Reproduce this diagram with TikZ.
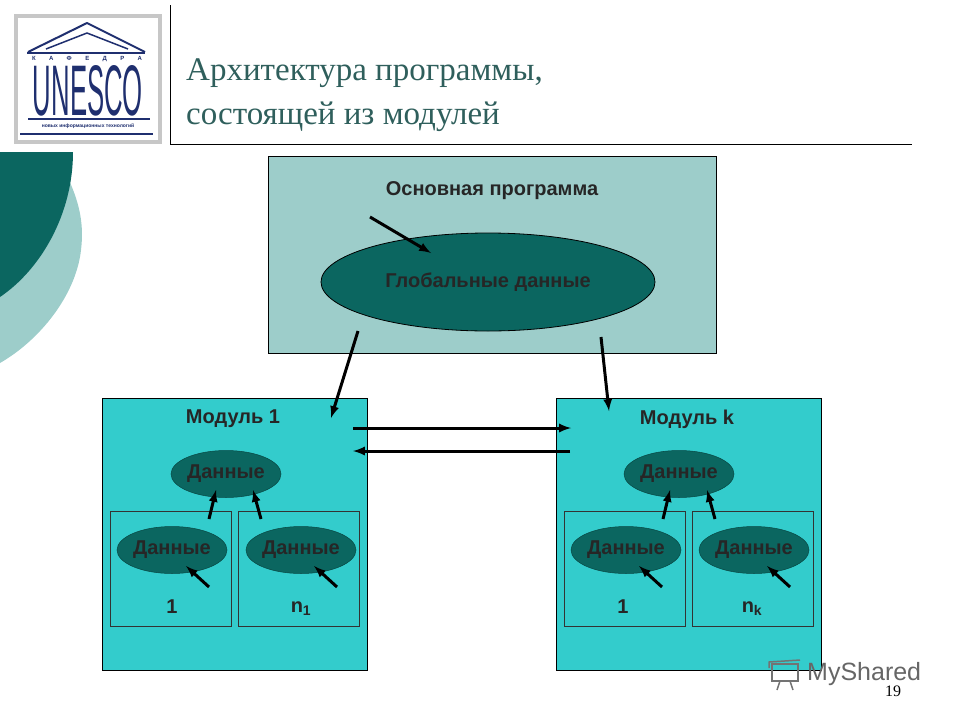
\documentclass[tikz,border=0pt]{standalone}
\usepackage{graphicx}
\usepackage{fontspec}
\setmainfont{Liberation Sans}
\newfontfamily\titlefont{Liberation Serif}
\usetikzlibrary{shapes.geometric}
\definecolor{darkteal}{HTML}{0B6660}
\definecolor{paleteal}{HTML}{9DCDCA}
\definecolor{modcyan}{HTML}{33CCCC}
\definecolor{logoblue}{HTML}{1F2F6F}
\definecolor{titleteal}{HTML}{2F5F5C}
\tikzset{
  mainbox/.style={draw=black, fill=paleteal, line width=0.8pt},
  modbox/.style={draw=black, fill=modcyan, line width=0.8pt},
  subbox/.style={draw=black!80, line width=0.6pt},
  bigdata/.style={ellipse, draw=black, fill=darkteal, line width=0.8pt, minimum width=334pt, minimum height=98pt, inner sep=0pt},
  data/.style={ellipse, draw=darkteal!70!black, fill=darkteal, line width=0.5pt, minimum width=110pt, minimum height=47pt, inner sep=0pt},
  lab/.style={font=\fontsize{20}{24}\selectfont\bfseries, text=black!85, inner sep=0pt},
  flow/.style={->, >=latex, line width=3pt, black},
  thinflow/.style={->, >=latex, line width=3pt, black}
}
\begin{document}
\begin{tikzpicture}[x=1pt, y=-1pt]
  \useasboundingbox (0,0) rectangle (960,720);
  % corner shapes
  \fill [paleteal] (69,180) .. controls (80,205) and (84,225) .. (81,250) .. controls (76,295) and (40,340) .. (0,363) -- (0,290) -- cycle;
  \fill [darkteal] (0,152) -- (73,152) .. controls (73,215) and (40,270) .. (0,297) -- cycle;
  % logo
  \filldraw [draw=black!22, fill=white, line width=4pt] (16,16) rectangle (160,142);
  \draw [logoblue, line width=2pt, line join=round] (28,52) -- (87,23) -- (145,52);
  \draw [logoblue, line width=1.5pt, line join=round] (46,49) -- (87,33) -- (128,49);
  \draw [logoblue, line width=2.5pt] (27,53) -- (145,53);
  \draw [logoblue, line width=2.5pt] (28,119) -- (150,119);
  \draw [logoblue, line width=2.5pt] (20,134) -- (153,134);
  \node (kafedra) at (87,59.5) [inner sep=0pt, text=logoblue, font=\fontsize{6}{7}\selectfont\bfseries] {\makebox[110pt][s]{К\hfil А\hfil Ф\hfil Е\hfil Д\hfil Р\hfil А}};
  \node (unesco) at (88,91) [inner sep=0pt, text=logoblue] {\resizebox{110pt}{50pt}{UNESCO}};
  \node (logotext) at (88,126) [inner sep=0pt, text=logoblue, font=\fontsize{5}{6}\selectfont\bfseries] {новых информационных технологий};
  % title
  \draw [black, line width=0.8pt] (170,5) -- (170,144) -- (912,144);
  \node (title1) at (186,80) [anchor=base west, inner sep=0pt, text=titleteal, font=\fontsize{33}{36}\selectfont\titlefont] {Архитектура программы,};
  \node (title2) at (186,124) [anchor=base west, inner sep=0pt, text=titleteal, font=\fontsize{33}{36}\selectfont\titlefont] {состоящей из модулей};
  % main program
  \filldraw [mainbox] (268,156) rectangle (716,353);
  \node [lab] (mainlab) at (492,191) {Основная программа};
  \node [bigdata, lab] (glob) at (488,282) {\makebox[0pt]{Глобальные данные}};
  % modules
  \filldraw [modbox] (102,398) rectangle (367,670);
  \filldraw [modbox] (556,398) rectangle (821,670);
  \node [lab] (mod1lab) at (233,419) {Модуль 1};
  \node [lab] (modklab) at (687,419) {Модуль k};
  \draw [subbox] (110,511) rectangle (231,626);
  \draw [subbox] (238,511) rectangle (359,626);
  \draw [subbox] (564,511) rectangle (685,626);
  \draw [subbox] (692,511) rectangle (813,626);
  \node [data, lab] (d1) at (226,474) {\makebox[0pt]{Данные}};
  \node [data, lab] (d11) at (172,550) {\makebox[0pt]{Данные}};
  \node [data, lab] (d1n) at (301,550) {\makebox[0pt]{Данные}};
  \node [data, lab] (dk) at (679,474) {\makebox[0pt]{Данные}};
  \node [data, lab] (dk1) at (626,550) {\makebox[0pt]{Данные}};
  \node [data, lab] (dkn) at (754,550) {\makebox[0pt]{Данные}};
  \node [lab] (s11) at (172,607) {1};
  \node [lab] (s1n) at (301,609) {n\textsubscript{1}};
  \node [lab] (sk1) at (623,607) {1};
  \node [lab] (skn) at (752,609) {n\textsubscript{k}};
  % arrow ends
  \coordinate (a1) at (370,217);  \coordinate (a2) at (431,253);
  \coordinate (b1) at (358,331);  \coordinate (b2) at (331,418);
  \coordinate (c1) at (601,337);  \coordinate (c2) at (609,411);
  \coordinate (e1) at (353,428);  \coordinate (e2) at (571,428);
  \coordinate (f1) at (570,451);  \coordinate (f2) at (353,451);
  \coordinate (g1) at (209,519);  \coordinate (g2) at (216,490);
  \coordinate (h1) at (261,519);  \coordinate (h2) at (253,490);
  \coordinate (i1) at (209,587);  \coordinate (i2) at (186,566);
  \coordinate (j1) at (337,587);  \coordinate (j2) at (314,566);
  \coordinate (k1) at (663,519);  \coordinate (k2) at (670,490);
  \coordinate (l1) at (715,519);  \coordinate (l2) at (707,490);
  \coordinate (m1) at (662,587);  \coordinate (m2) at (639,566);
  \coordinate (n1) at (790,587);  \coordinate (n2) at (767,566);
  \draw [flow] (a1) -- (a2);
  \draw [flow] (b1) -- (b2);
  \draw [flow] (c1) -- (c2);
  \draw [flow] (e1) -- (e2);
  \draw [flow] (f1) -- (f2);
  \draw [thinflow] (g1) -- (g2);
  \draw [thinflow] (h1) -- (h2);
  \draw [thinflow] (i1) -- (i2);
  \draw [thinflow] (j1) -- (j2);
  \draw [thinflow] (k1) -- (k2);
  \draw [thinflow] (l1) -- (l2);
  \draw [thinflow] (m1) -- (m2);
  \draw [thinflow] (n1) -- (n2);
  % watermark and page number
  \draw [black!55, line width=1.5pt] (772,664) rectangle (798,681);
  \draw [black!55, line width=1.5pt] (769,668) -- (769,662) -- (800,660);
  \draw [black!55, line width=1.5pt] (780,681) -- (777,690);
  \draw [black!55, line width=1.5pt] (790,681) -- (793,690);
  \node (shared) at (807,674) [anchor=west, inner sep=0pt, text=black!60, font=\fontsize{25}{28}\selectfont] {MyShared};
  \node (pagenum) at (893,691) [inner sep=0pt, font=\fontsize{16}{18}\selectfont\titlefont] {19};
\end{tikzpicture}
\end{document}
